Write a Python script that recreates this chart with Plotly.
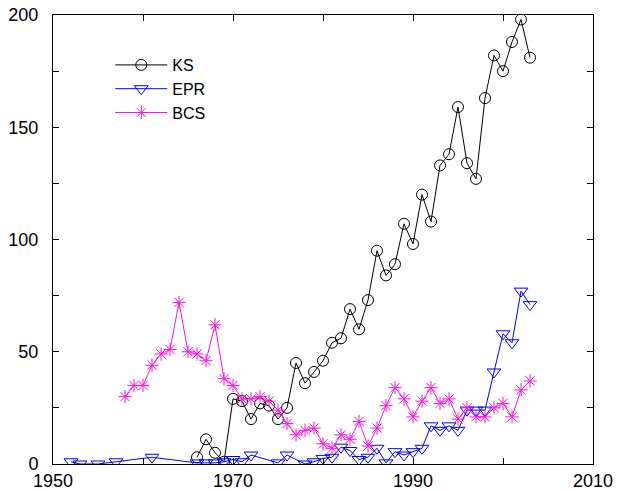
import plotly.graph_objects as go

ks_years = list(range(1966, 2004))
ks_vals = [3, 11, 5, 1, 29, 28, 20, 27, 26, 20, 25, 45, 36, 41, 46, 54, 56, 69, 60, 73,
           95, 84, 89, 107, 98, 120, 108, 133, 138, 159, 134, 127, 163, 182, 175, 188, 198, 181]

epr_years = [1952, 1953, 1955, 1957, 1961, 1966, 1967, 1968, 1969, 1970, 1971, 1972,
             1975, 1976, 1978, 1979, 1980, 1981, 1982, 1983, 1984, 1985, 1986, 1987,
             1988, 1989, 1990, 1991, 1992, 1993, 1994, 1995, 1996, 1997, 1998, 1999,
             2000, 2001, 2002, 2003]
epr_vals = [1, 0, 0, 1, 3, 0.5, 0.5, 0.5, 1, 2, 1, 4,
            0.5, 4, 0, 1, 2.5, 3, 7.5, 6, 2, 3, 7, 0.5,
            5.5, 4, 5.5, 7, 17, 15, 17, 15, 24, 24, 24, 41,
            58, 54, 77, 71]

bcs_years = list(range(1958, 2004))
bcs_vals = [30, 35, 35, 44, 49, 51, 72, 50, 49, 46, 62, 38, 35, 29, 29, 30, 28, 24, 18, 13,
            15, 16, 9, 7, 13, 11, 19, 8, 16, 26, 34, 29, 21, 28, 34, 27, 29, 20, 25, 21,
            21, 25, 27, 21, 33, 37]

x_ticks = [1950, 1960, 1970, 1980, 1990, 2000, 2010]
x_labels = ["1950", "", "1970", "", "1990", "", "2010"]
y_ticks = [0, 25, 50, 75, 100, 125, 150, 175, 200]
y_labels = ["0", "", "50", "", "100", "", "150", "", "200"]

FONT = "Liberation Sans, Arial, Helvetica, sans-serif"
MAG = "#ff14dc"

fig = go.Figure()
fig.add_trace(go.Scatter(
    x=ks_years, y=ks_vals, name="KS", mode="lines+markers",
    line=dict(color="black", width=1),
    marker=dict(symbol="circle-open", size=11, color="black", line=dict(width=1, color="black")),
))
fig.add_trace(go.Scatter(
    x=epr_years, y=epr_vals, name="EPR", mode="lines+markers",
    line=dict(color="#0000ff", width=1),
    marker=dict(symbol="triangle-down-open", size=12, color="#0000ff", line=dict(width=1, color="#0000ff")),
))
fig.add_trace(go.Scatter(
    x=bcs_years, y=bcs_vals, name="BCS", mode="lines+markers",
    line=dict(color=MAG, width=1),
    marker=dict(symbol="asterisk-open", size=11, color=MAG, line=dict(width=1, color=MAG)),
))

axis_common = dict(
    showline=True, linecolor="black", linewidth=1, mirror="ticks",
    ticks="inside", ticklen=6, tickcolor="black", tickwidth=1,
    showgrid=False, zeroline=False,
    tickfont=dict(family=FONT, size=18, color="black"),
)
fig.update_xaxes(range=[1950, 2010], tickmode="array", tickvals=x_ticks, ticktext=x_labels,
                 ticklabelstandoff=0, **axis_common)
fig.update_yaxes(range=[0, 200], tickmode="array", tickvals=y_ticks, ticktext=y_labels,
                 ticklabelstandoff=10, **axis_common)

fig.update_layout(
    width=617, height=491,
    margin=dict(l=53, r=24, t=15, b=27, autoexpand=False),
    plot_bgcolor="white", paper_bgcolor="white",
    font=dict(family=FONT, size=18, color="black"),
    showlegend=True,
    legend=dict(x=0.106, y=0.9265, xanchor="left", yanchor="top",
                bgcolor="rgba(0,0,0,0)", itemwidth=52,
                font=dict(family=FONT, size=16, color="black"),
                tracegroupgap=0),
)

fig.write_html("out.html", config={"displayModeBar": False},
               post_script="document.body.style.margin='0';document.body.style.overflow='hidden';")
